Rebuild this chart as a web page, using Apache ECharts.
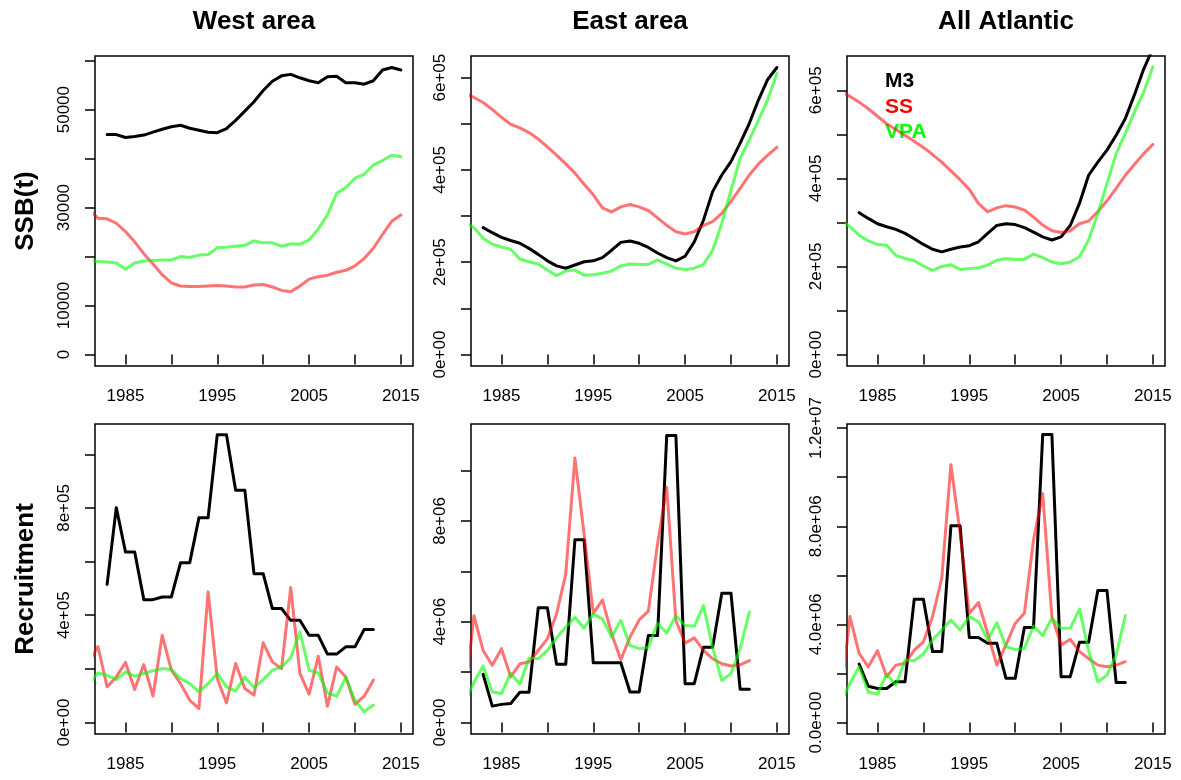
<!DOCTYPE html>
<html>
<head>
<meta charset="utf-8">
<script src="https://cdn.jsdelivr.net/npm/echarts@6/dist/echarts.min.js"></script>
<style>
html,body{margin:0;padding:0;background:#ffffff;}
#chart{width:1181px;height:780px;}
</style>
</head>
<body>
<div id="chart"></div>
<script>
// ---------- DATA ----------
const yearsSSB   = [1981,1982,1983,1984,1985,1986,1987,1988,1989,1990,1991,1992,1993,1994,1995,1996,1997,1998,1999,2000,2001,2002,2003,2004,2005,2006,2007,2008,2009,2010,2011,2012,2013,2014,2015];
const yearsSSBM3 = [1983,1984,1985,1986,1987,1988,1989,1990,1991,1992,1993,1994,1995,1996,1997,1998,1999,2000,2001,2002,2003,2004,2005,2006,2007,2008,2009,2010,2011,2012,2013,2014,2015];
const yearsRec   = [1981,1982,1983,1984,1985,1986,1987,1988,1989,1990,1991,1992,1993,1994,1995,1996,1997,1998,1999,2000,2001,2002,2003,2004,2005,2006,2007,2008,2009,2010,2011,2012];
const yearsRecM3 = [1983,1984,1985,1986,1987,1988,1989,1990,1991,1992,1993,1994,1995,1996,1997,1998,1999,2000,2001,2002,2003,2004,2005,2006,2007,2008,2009,2010,2011,2012];

// West area SSB (t)
const westSSB_M3  = [44900,44900,44300,44500,44800,45400,46000,46500,46800,46200,45800,45400,45300,46100,47800,49700,51600,53900,55800,56900,57200,56500,55900,55500,56700,56800,55500,55500,55200,55900,58100,58600,58100];
const westSSB_SS  = [29800,27800,27700,26800,25100,23000,20600,18500,16300,14600,14000,13900,13900,14000,14100,14000,13800,13800,14200,14300,13800,13100,12800,14000,15400,15900,16200,16800,17200,18100,19600,21700,24500,27200,28500];
const westSSB_VPA = [19300,19000,18900,18700,17400,18700,19100,19200,19300,19300,20000,19800,20300,20400,21800,21900,22100,22300,23200,22800,22800,22100,22600,22500,23400,25600,28500,32900,34100,36000,36800,38700,39600,40700,40400];

// East area SSB
const eastSSB_M3  = [275000,264000,254000,247000,241000,230000,217000,203000,192000,187000,194000,201000,203000,210000,226000,243000,246000,241000,232000,220000,210000,203000,213000,244000,291000,353000,389000,418000,458000,501000,552000,596000,622000];
const eastSSB_SS  = [566000,557000,546000,531000,514000,499000,491000,481000,467000,450000,432000,413000,393000,369000,346000,318000,309000,320000,325000,320000,312000,296000,280000,266000,261000,266000,280000,288000,306000,332000,360000,389000,413000,432000,449000];
const eastSSB_VPA = [286000,275000,252000,239000,233000,228000,207000,201000,196000,183000,171000,181000,183000,172000,173000,176000,181000,192000,196000,195000,195000,205000,196000,187000,184000,187000,195000,226000,284000,356000,425000,465000,508000,552000,609000];

// All Atlantic SSB
const allSSB_M3  = [322000,309000,297000,290000,284000,275000,263000,250000,239000,233000,239000,244000,247000,256000,275000,293000,297000,295000,288000,278000,267000,260000,267000,293000,343000,407000,437000,464000,498000,536000,590000,648000,695000];
const allSSB_SS  = [598000,586000,573000,558000,541000,524000,511000,498000,484000,470000,454000,437000,417000,397000,375000,343000,324000,333000,338000,335000,328000,312000,294000,281000,277000,281000,297000,303000,324000,349000,377000,407000,432000,456000,477000];
const allSSB_VPA = [307000,290000,271000,258000,250000,248000,225000,218000,213000,201000,191000,200000,204000,193000,195000,197000,203000,214000,218000,216000,216000,228000,220000,210000,206000,210000,222000,260000,320000,388000,456000,502000,551000,596000,653000];

// West area Recruitment
const westRec_M3  = [515000,801000,636000,636000,458000,458000,468000,468000,596000,596000,763000,763000,1073000,1073000,866000,866000,555000,555000,425000,425000,381000,381000,325000,325000,255000,255000,282000,282000,347000,347000];
const westRec_SS  = [225000,283000,133000,170000,224000,123000,216000,99000,325000,195000,145000,83000,52000,487000,164000,73000,220000,127000,102000,297000,226000,201000,503000,183000,106000,247000,61000,207000,170000,68000,98000,158000];
const westRec_VPA = [140000,185000,176000,160000,189000,173000,183000,193000,201000,198000,164000,145000,114000,145000,183000,133000,118000,170000,130000,160000,195000,207000,241000,338000,195000,185000,111000,98000,168000,81000,40000,65000];

// East area Recruitment
const eastRec_M3  = [1910000,650000,720000,750000,1200000,1200000,4550000,4550000,2310000,2310000,7250000,7250000,2370000,2370000,2370000,2370000,1210000,1210000,3450000,3450000,11390000,11390000,1540000,1540000,2990000,2990000,5130000,5130000,1320000,1320000];
const eastRec_SS  = [900000,4240000,2860000,2270000,2930000,1810000,2330000,2400000,2860000,3320000,4310000,5890000,10500000,7470000,4340000,4860000,3520000,2490000,3390000,4070000,4420000,7080000,9340000,4050000,3150000,3360000,2860000,2530000,2330000,2240000,2290000,2460000];
const eastRec_VPA = [800000,1600000,2240000,1210000,1150000,1960000,1520000,2560000,2530000,2860000,3360000,3780000,4180000,3740000,4310000,4110000,3390000,4050000,3060000,2930000,2990000,3940000,3550000,4240000,3850000,3820000,4640000,2970000,1670000,1940000,2930000,4380000];

// All Atlantic Recruitment
const allRec_M3  = [2380000,1480000,1390000,1390000,1660000,1660000,5020000,5020000,2890000,2890000,8020000,8020000,3470000,3470000,3230000,3230000,1800000,1800000,3870000,3870000,11740000,11740000,1870000,1870000,3270000,3270000,5380000,5380000,1630000,1630000];
const allRec_SS  = [1000000,4320000,2820000,2270000,2930000,1870000,2340000,2410000,2950000,3290000,4320000,5880000,10510000,7720000,4450000,4890000,3640000,2340000,3160000,4040000,4450000,7450000,9330000,4320000,3160000,3390000,2890000,2610000,2340000,2270000,2340000,2480000];
const allRec_VPA = [800000,1590000,2270000,1230000,1160000,1970000,1520000,2550000,2520000,2790000,3360000,3770000,4180000,3770000,4320000,4110000,3360000,4070000,3090000,2980000,3020000,3930000,3540000,4250000,3840000,3840000,4620000,2930000,1660000,1930000,2750000,4360000];

// Tick positions and labels
const xTickVals  = [1985,1990,1995,2000,2005,2010,2015];
const xLabelVals = [1985,1995,2005,2015];

const westSSBTicks     = [0,10000,20000,30000,40000,50000,60000];
const westSSBLabelVals = [0,10000,30000,50000];
const westSSBLabelText = ['0','10000','30000','50000'];

const bigSSBTicks     = [0,100000,200000,300000,400000,500000,600000];
const bigSSBLabelVals = [0,200000,400000,600000];
const bigSSBLabelText = ['0e+00','2e+05','4e+05','6e+05'];

const westRecTicks     = [0,200000,400000,600000,800000,1000000];
const westRecLabelVals = [0,400000,800000];
const westRecLabelText = ['0e+00','4e+05','8e+05'];

const eastRecTicks     = [0,2000000,4000000,6000000,8000000,10000000];
const eastRecLabelVals = [0,4000000,8000000];
const eastRecLabelText = ['0e+00','4e+06','8e+06'];

const allRecTicks     = [0,2000000,4000000,6000000,8000000,10000000,12000000];
const allRecLabelVals = [0,4000000,8000000,12000000];
const allRecLabelText = ['0.0e+00','4.0e+06','8.0e+06','1.2e+07'];

const panelTitles = ['West area','East area','All Atlantic'];
const rowTitles   = ['SSB(t)','Recruitment'];
const seriesNames = ['M3','SS','VPA'];

// ---------- CHART ----------
const FONT = '"Liberation Sans", Arial, Helvetica, sans-serif';
const lineColors = ['#000000','rgba(255,0,0,0.55)','rgba(0,255,0,0.6)'];
const legendColors = ['#000000','#ff0000','#00ff00'];

const lefts = [95, 471, 847];
const tops = [56, 424];
const W = 318, H = 310;

const panels = [
  {m3: westSSB_M3, ss: westSSB_SS, vpa: westSSB_VPA, yrM3: yearsSSBM3, yr: yearsSSB, ymin: -2344, ymax: 60950,
   ticks: westSSBTicks, lv: westSSBLabelVals, lt: westSSBLabelText},
  {m3: eastSSB_M3, ss: eastSSB_SS, vpa: eastSSB_VPA, yrM3: yearsSSBM3, yr: yearsSSB, ymin: -24880, ymax: 646880,
   ticks: bigSSBTicks, lv: bigSSBLabelVals, lt: bigSSBLabelText},
  {m3: allSSB_M3, ss: allSSB_SS, vpa: allSSB_VPA, yrM3: yearsSSBM3, yr: yearsSSB, ymin: -26070, ymax: 677770,
   ticks: bigSSBTicks, lv: bigSSBLabelVals, lt: bigSSBLabelText},
  {m3: westRec_M3, ss: westRec_SS, vpa: westRec_VPA, yrM3: yearsRecM3, yr: yearsRec, ymin: -42800, ymax: 1112800,
   ticks: westRecTicks, lv: westRecLabelVals, lt: westRecLabelText},
  {m3: eastRec_M3, ss: eastRec_SS, vpa: eastRec_VPA, yrM3: yearsRecM3, yr: yearsRec, ymin: -455600, ymax: 11845600,
   ticks: eastRecTicks, lv: eastRecLabelVals, lt: eastRecLabelText},
  {m3: allRec_M3, ss: allRec_SS, vpa: allRec_VPA, yrM3: yearsRecM3, yr: yearsRec, ymin: -468000, ymax: 12168000,
   ticks: allRecTicks, lv: allRecLabelVals, lt: allRecLabelText}
];

function pairs(years, vals) { return years.map((y, i) => [y, vals[i]]); }

const grids = [], xAxes = [], yAxes = [], series = [];
panels.forEach((p, i) => {
  const col = i % 3, row = Math.floor(i / 3);
  grids.push({left: lefts[col], top: tops[row], width: W, height: H, show: true,
    borderColor: '#000', borderWidth: 1.5, backgroundColor: 'transparent', containLabel: false});
  xAxes.push({type: 'value', gridIndex: i, min: 1981.68, max: 2016.32,
    axisLine: {show: false}, splitLine: {show: false},
    axisTick: {show: true, length: 10, inside: false, lineStyle: {color: '#000', width: 1.5}, customValues: xTickVals},
    axisLabel: {show: true, customValues: xLabelVals, formatter: v => String(v),
      fontSize: 17, color: '#000', fontFamily: FONT, margin: 22}});
  const map = {};
  p.lv.forEach((v, k) => { map[v] = p.lt[k]; });
  yAxes.push({type: 'value', gridIndex: i, min: p.ymin, max: p.ymax,
    axisLine: {show: false}, splitLine: {show: false},
    axisTick: {show: true, length: 10, inside: false, lineStyle: {color: '#000', width: 1.5}, customValues: p.ticks},
    axisLabel: {show: true, customValues: p.lv, formatter: v => (map[v] !== undefined ? map[v] : ''),
      rotate: 90, fontSize: 17, color: '#000', fontFamily: FONT, margin: 22}});
  const sets = [[p.yrM3, p.m3], [p.yr, p.ss], [p.yr, p.vpa]];
  sets.forEach((s, k) => {
    series.push({type: 'line', name: seriesNames[k], xAxisIndex: i, yAxisIndex: i,
      data: pairs(s[0], s[1]), showSymbol: false, symbol: 'none', clip: true, silent: true,
      z: 2 + k,
      lineStyle: {color: lineColors[k], width: 3, join: 'round', cap: 'round'}});
  });
});

const graphics = [];
panelTitles.forEach((t, c) => {
  graphics.push({type: 'text', x: lefts[c] + W / 2, y: 22, silent: true,
    style: {text: t, font: 'bold 26px ' + FONT, fill: '#000',
      align: 'center', verticalAlign: 'middle', textAlign: 'center', textVerticalAlign: 'middle'}});
});
rowTitles.forEach((t, r) => {
  graphics.push({type: 'text', x: 26, y: tops[r] + H / 2, rotation: Math.PI / 2, silent: true,
    style: {text: t, font: 'bold 26px ' + FONT, fill: '#000',
      align: 'center', verticalAlign: 'middle', textAlign: 'center', textVerticalAlign: 'middle'}});
});
const legendY = [81, 107, 132];
seriesNames.forEach((n, k) => {
  graphics.push({type: 'text', x: 885, y: legendY[k], silent: true,
    style: {text: n, font: 'bold 21px ' + FONT, fill: legendColors[k],
      align: 'left', verticalAlign: 'middle', textAlign: 'left', textVerticalAlign: 'middle'}});
});

const chart = echarts.init(document.getElementById('chart'), null, {renderer: 'canvas'});
chart.setOption({
  animation: false,
  backgroundColor: '#ffffff',
  grid: grids,
  xAxis: xAxes,
  yAxis: yAxes,
  series: series,
  graphic: graphics
});
</script>
</body>
</html>
